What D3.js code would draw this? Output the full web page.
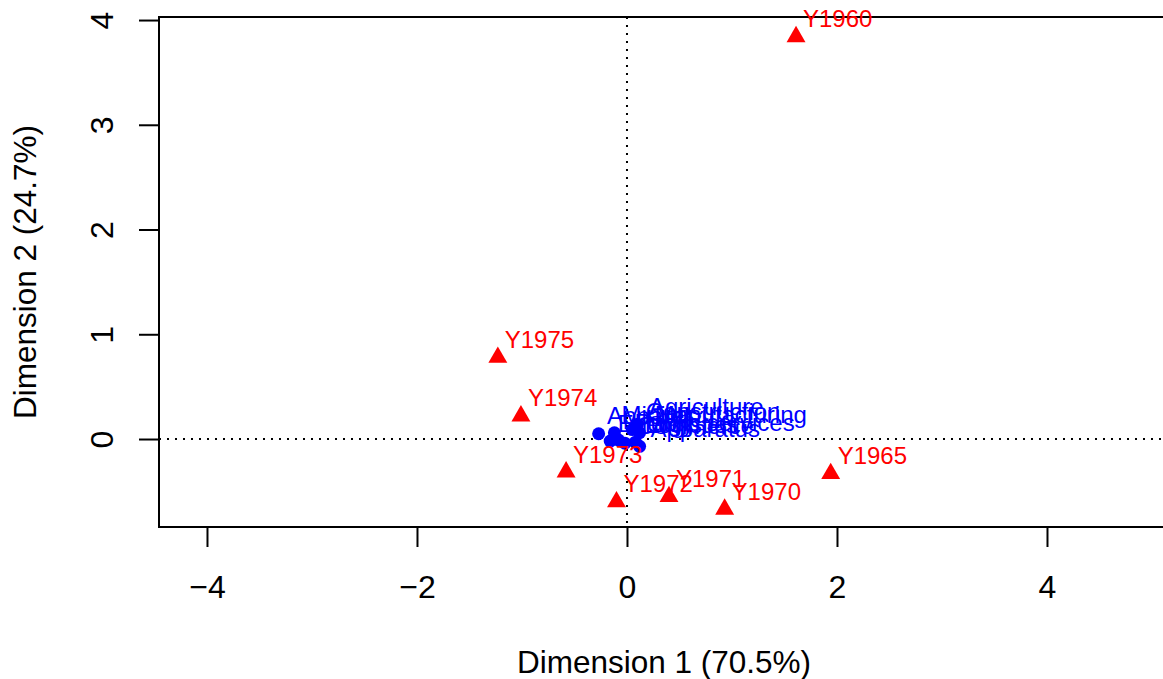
<!DOCTYPE html>
<html>
<head>
<meta charset="utf-8">
<script src="https://cdn.jsdelivr.net/npm/d3@7"></script>
<style>
  body { margin: 0; background: #fff; }
  svg text { font-family: "Liberation Sans", Arial, Helvetica, sans-serif; }
</style>
</head>
<body>
<div id="chart"></div>
<script>
// Row points (years), principal coordinates
const rowLabels = ["Y1960", "Y1965", "Y1970", "Y1971", "Y1972", "Y1973", "Y1974", "Y1975"];
const rowDim1 = [1.61, 1.94, 0.93, 0.40, -0.10, -0.58, -1.01, -1.23];
const rowDim2 = [3.84, -0.33, -0.67, -0.55, -0.60, -0.315, 0.22, 0.78];

// Column points (sectors), clustered near the origin
const colLabels = ["Apparel", "Mining", "Energy", "Commerce", "Public services", "Apparatus",
                   "Logistics", "Construction", "Agriculture", "Manufacturing"];
const colDim1 = [-0.27, -0.12, -0.16, -0.02, -0.08, 0.12, 0.08, 0.05, 0.10, 0.12];
const colDim2 = [0.05, 0.06, -0.02, -0.04, -0.01, -0.07, -0.03, 0.09, 0.14, 0.06];

const xTicks = [-4, -2, 0, 2, 4];
const yTicks = [0, 1, 2, 3, 4];

const W = 1163, H = 679;
const plot = { left: 159, right: 1169, top: 17, bottom: 527 };

const svg = d3.select("#chart")
    .append("svg")
    .attr("width", W)
    .attr("height", H);

const x = d3.scaleLinear()
    .domain([-4.457, 5.162])
    .range([plot.left, plot.right]);

const y = d3.scaleLinear()
    .domain([-0.84, 4.029])
    .range([plot.bottom, plot.top]);

// Dotted reference lines through the origin
svg.append("line")
    .attr("x1", plot.left).attr("x2", plot.right)
    .attr("y1", y(0)).attr("y2", y(0))
    .style("stroke", "#000").style("stroke-width", 2)
    .style("stroke-dasharray", "2,6");

svg.append("line")
    .attr("x1", x(0)).attr("x2", x(0))
    .attr("y1", plot.top).attr("y2", plot.bottom)
    .style("stroke", "#000").style("stroke-width", 2)
    .style("stroke-dasharray", "2,6");

// Axes
const fmt = d => d < 0 ? "\u2212" + Math.abs(d) : String(d);

const xAxis = svg.append("g")
    .attr("transform", `translate(0,${plot.bottom})`)
    .call(d3.axisBottom(x).tickValues(xTicks).tickSize(20).tickPadding(0).tickFormat(fmt));
xAxis.select(".domain").remove();
xAxis.selectAll(".tick line").style("stroke-width", 2);
xAxis.selectAll(".tick text")
    .attr("y", 71).attr("dy", null)
    .style("font-size", "32px")
    .style("fill", "#000");

const yAxis = svg.append("g")
    .attr("transform", `translate(${plot.left},0)`)
    .call(d3.axisLeft(y).tickValues(yTicks).tickSize(20).tickFormat(fmt));
yAxis.select(".domain").remove();
yAxis.selectAll(".tick line").style("stroke-width", 2);
yAxis.selectAll(".tick text")
    .attr("x", null).attr("dy", null)
    .attr("transform", "translate(-46,0) rotate(-90)")
    .style("text-anchor", "middle")
    .style("font-size", "32px")
    .style("fill", "#000");

// Plot box
svg.append("rect")
    .attr("x", plot.left).attr("y", plot.top)
    .attr("width", plot.right - plot.left)
    .attr("height", plot.bottom - plot.top)
    .style("fill", "none")
    .style("stroke", "#000")
    .style("stroke-width", 2);

// Axis titles
svg.append("text")
    .attr("x", (plot.left + plot.right) / 2)
    .attr("y", 673)
    .style("text-anchor", "middle")
    .style("font-size", "31.5px")
    .text("Dimension 1 (70.5%)");

svg.append("text")
    .attr("transform", `translate(36,${(plot.top + plot.bottom) / 2}) rotate(-90)`)
    .style("text-anchor", "middle")
    .style("font-size", "31.5px")
    .text("Dimension 2 (24.7%)");

// Column points (blue circles)
const cols = colLabels.map((d, i) => ({ label: d, d1: colDim1[i], d2: colDim2[i] }));
const rows = rowLabels.map((d, i) => ({ label: d, d1: rowDim1[i], d2: rowDim2[i] }));

svg.selectAll(".col-pt")
    .data(cols)
    .enter()
    .append("circle")
    .attr("class", "col-pt")
    .attr("cx", d => x(d.d1))
    .attr("cy", d => y(d.d2))
    .attr("r", 6.5)
    .style("fill", "#0000FF");

// Row points (red triangles)
svg.selectAll(".row-pt")
    .data(rows)
    .enter()
    .append("path")
    .attr("class", "row-pt")
    .attr("d", d3.symbol().type(d3.symbolTriangle).size(155)())
    .attr("transform", d => `translate(${x(d.d1)},${y(d.d2)})`)
    .style("fill", "#FF0000");

// Labels, offset like adj = c(-0.1, -0.1)
function addLabels(data, cls, color) {
    svg.selectAll("." + cls)
        .data(data)
        .enter()
        .append("text")
        .attr("class", cls)
        .attr("y", d => y(d.d2) - 9.5)
        .style("font-size", "24px")
        .style("fill", color)
        .text(d => d.label)
        .attr("x", function (d) {
            return x(d.d1) + 0.1 * this.getComputedTextLength();
        });
}
addLabels(cols, "col-lab", "#0000FF");
addLabels(rows, "row-lab", "#FF0000");
</script>
</body>
</html>
